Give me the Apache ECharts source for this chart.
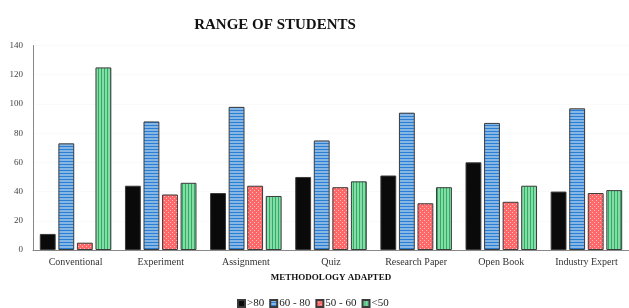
<!DOCTYPE html>
<html>
<head>
<meta charset="utf-8">
<script src="https://cdn.jsdelivr.net/npm/echarts@6/dist/echarts.min.js"></script>
<style>
  html, body { margin: 0; padding: 0; background: #fff; }
  #chart { width: 629px; height: 308px; }
</style>
</head>
<body>
<div id="chart"></div>
<script>
// 数据
const categories = ["Conventional", "Experiment", "Assignment", "Quiz", "Research Paper", "Open Book", "Industry Expert"];
const seriesNames = [">80", "60 - 80", "50 - 60", "<50"];
const above80 = [11, 44, 39, 50, 51, 60, 40];
const from60to80 = [73, 88, 98, 75, 94, 87, 97];
const from50to60 = [5, 38, 44, 43, 32, 33, 39];
const below50 = [125, 46, 37, 47, 43, 44, 41];
const yTicks = [0, 20, 40, 60, 80, 100, 120, 140];

// 图案填充
function makePattern(w, h, draw) {
  const c = document.createElement("canvas");
  c.width = w; c.height = h;
  draw(c.getContext("2d"));
  return { image: c, repeat: "repeat" };
}
const blueFill = makePattern(4, 3, (ctx) => {
  ctx.fillStyle = "#86b6e4"; ctx.fillRect(0, 0, 4, 3);
  ctx.fillStyle = "#2a7fd4"; ctx.fillRect(0, 2, 4, 1);
});
const redFill = makePattern(4, 4, (ctx) => {
  ctx.fillStyle = "#ff6868"; ctx.fillRect(0, 0, 4, 4);
  ctx.fillStyle = "#ffc2c2";
  ctx.fillRect(0, 0, 1, 1); ctx.fillRect(2, 2, 1, 1);
});
const greenFill = makePattern(3, 4, (ctx) => {
  ctx.fillStyle = "#86dca8"; ctx.fillRect(0, 0, 3, 4);
  ctx.fillStyle = "#2fae62"; ctx.fillRect(2, 0, 1, 4);
});

const chart = echarts.init(document.getElementById("chart"));
const serif = "'Liberation Serif', 'DejaVu Serif', serif";
const barStyle = (color) => ({ color: color, borderColor: "#3a3a3a", borderWidth: 1 });

const option = {
  animation: false,
  textStyle: { fontFamily: serif },
  title: {
    text: "RANGE OF STUDENTS",
    left: 270, top: 13,
    textAlign: "center",
    textStyle: { fontFamily: serif, fontSize: 15, fontWeight: "bold", color: "#111" }
  },
  legend: {
    data: seriesNames,
    left: 232, top: 293,
    icon: "rect",
    itemWidth: 7, itemHeight: 7, itemGap: 5,
    textStyle: { fontFamily: serif, fontSize: 11, color: "#222", padding: [0, 0, 0, -3] }
  },
  grid: { left: 33, top: 45.5, width: 602, bottom: 58 },
  xAxis: {
    type: "category",
    data: categories,
    name: "METHODOLOGY ADAPTED",
    nameLocation: "middle",
    nameGap: 23,
    nameTextStyle: { fontFamily: serif, fontSize: 9, fontWeight: "bold", color: "#111" },
    axisLine: { lineStyle: { color: "#888" } },
    axisTick: { show: false },
    axisLabel: { fontFamily: serif, fontSize: 10, color: "#333", margin: 7 }
  },
  yAxis: {
    type: "value",
    min: yTicks[0], max: yTicks[yTicks.length - 1], interval: 20,
    axisLine: { show: true, lineStyle: { color: "#888" } },
    axisTick: { show: false },
    splitLine: { lineStyle: { color: "#fafafa" } },
    axisLabel: { fontFamily: serif, fontSize: 9, color: "#444", margin: 10 }
  },
  series: [
    { name: seriesNames[0], type: "bar", data: above80, barGap: "17%", barCategoryGap: "16%", itemStyle: barStyle("#0a0a0a") },
    { name: seriesNames[1], type: "bar", data: from60to80, itemStyle: barStyle(blueFill) },
    { name: seriesNames[2], type: "bar", data: from50to60, itemStyle: barStyle(redFill) },
    { name: seriesNames[3], type: "bar", data: below50, itemStyle: barStyle(greenFill) }
  ]
};

option && chart.setOption(option);
</script>
</body>
</html>
